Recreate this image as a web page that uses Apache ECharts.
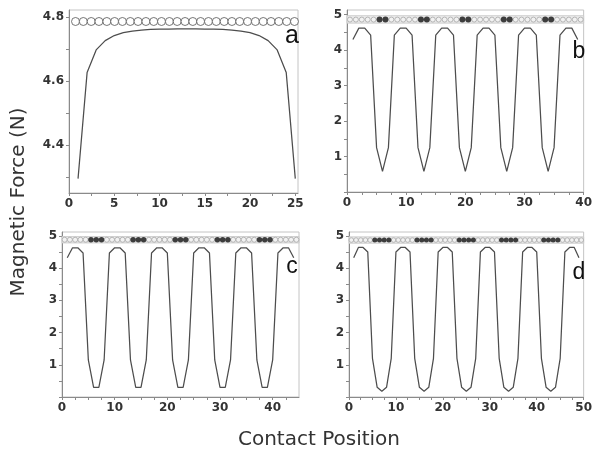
<!DOCTYPE html>
<html>
<head>
<meta charset="utf-8">
<script src="https://cdn.jsdelivr.net/npm/echarts@6/dist/echarts.min.js"></script>
<style>html,body{margin:0;padding:0;background:#fff}#c{width:595px;height:452px}</style>
</head>
<body>
<div id="c"></div>
<script>
// ---------- DATA ----------
// Panel a
const aX = [1,2,3,4,5,6,7,8,9,10,11,12,13,14,15,16,17,18,19,20,21,22,23,24,25];
const aY = [4.295,4.627,4.698,4.727,4.743,4.752,4.757,4.760,4.762,4.763,4.763,4.764,4.764,4.764,4.763,4.763,4.762,4.760,4.757,4.752,4.743,4.727,4.698,4.627,4.295];
const aOpenMagnets = [0.72,1.58,2.45,3.31,4.18,5.04,5.90,6.77,7.63,8.50,9.36,10.22,11.09,11.95,12.82,13.68,14.54,15.41,16.27,17.14,18.00,18.86,19.73,20.59,21.46,22.32,23.18,24.05,24.91];
const aMagnetRowY = 4.787;
// Panel b
const bX = [1,2,3,4,5,6,7,8,9,10,11,12,13,14,15,16,17,18,19,20,21,22,23,24,25,26,27,28,29,30,31,32,33,34,35,36,37,38,39];
const bY = [4.30,4.62,4.62,4.42,1.25,0.58,1.25,4.42,4.62,4.62,4.42,1.25,0.58,1.25,4.42,4.62,4.62,4.42,1.25,0.58,1.25,4.42,4.62,4.62,4.42,1.25,0.58,1.25,4.42,4.62,4.62,4.42,1.25,0.58,1.25,4.42,4.62,4.62,4.30];
const bOpenMagnets = [0.5,1.5,2.5,3.5,4.5,7.5,8.5,9.5,10.5,11.5,14.5,15.5,16.5,17.5,18.5,21.5,22.5,23.5,24.5,25.5,28.5,29.5,30.5,31.5,32.5,35.5,36.5,37.5,38.5,39.5];
const bFilledMagnets = [5.5,6.5,12.5,13.5,19.5,20.5,26.5,27.5,33.5,34.5];
const bMagnetRowY = 4.86;
// Panel c
const cX = [1,2,3,4,5,6,7,8,9,10,11,12,13,14,15,16,17,18,19,20,21,22,23,24,25,26,27,28,29,30,31,32,33,34,35,36,37,38,39,40,41,42,43,44];
const cY = [4.32,4.63,4.63,4.47,1.15,0.30,0.30,1.15,4.47,4.63,4.63,4.47,1.15,0.30,0.30,1.15,4.47,4.63,4.63,4.47,1.15,0.30,0.30,1.15,4.47,4.63,4.63,4.47,1.15,0.30,0.30,1.15,4.47,4.63,4.63,4.47,1.15,0.30,0.30,1.15,4.47,4.63,4.63,4.32];
const cOpenMagnets = [0.5,1.5,2.5,3.5,4.5,8.5,9.5,10.5,11.5,12.5,16.5,17.5,18.5,19.5,20.5,24.5,25.5,26.5,27.5,28.5,32.5,33.5,34.5,35.5,36.5,40.5,41.5,42.5,43.5,44.5];
const cFilledMagnets = [5.5,6.5,7.5,13.5,14.5,15.5,21.5,22.5,23.5,29.5,30.5,31.5,37.5,38.5,39.5];
const cMagnetRowY = 4.88;
// Panel d
const dX = [1,2,3,4,5,6,7,8,9,10,11,12,13,14,15,16,17,18,19,20,21,22,23,24,25,26,27,28,29,30,31,32,33,34,35,36,37,38,39,40,41,42,43,44,45,46,47,48,49];
const dY = [4.32,4.64,4.64,4.50,1.20,0.30,0.18,0.30,1.20,4.50,4.64,4.64,4.50,1.20,0.30,0.18,0.30,1.20,4.50,4.64,4.64,4.50,1.20,0.30,0.18,0.30,1.20,4.50,4.64,4.64,4.50,1.20,0.30,0.18,0.30,1.20,4.50,4.64,4.64,4.50,1.20,0.30,0.18,0.30,1.20,4.50,4.64,4.64,4.32];
const dOpenMagnets = [0.5,1.5,2.5,3.5,4.5,9.5,10.5,11.5,12.5,13.5,18.5,19.5,20.5,21.5,22.5,27.5,28.5,29.5,30.5,31.5,36.5,37.5,38.5,39.5,40.5,45.5,46.5,47.5,48.5,49.5];
const dFilledMagnets = [5.5,6.5,7.5,8.5,14.5,15.5,16.5,17.5,23.5,24.5,25.5,26.5,32.5,33.5,34.5,35.5,41.5,42.5,43.5,44.5];
const dMagnetRowY = 4.87;
// Tick labels
const aXTickLabels = [0,5,10,15,20,25];
const aXTickMarks = [0,2.5,5,7.5,10,12.5,15,17.5,20,22.5,25];
const aYTickLabels = [4.4,4.6,4.8];
const aYTickMarks = [4.3,4.4,4.5,4.6,4.7,4.8];
const bXTickLabels = [0,10,20,30,40];
const bXTickMarks = [0,2.5,5,7.5,10,12.5,15,17.5,20,22.5,25,27.5,30,32.5,35,37.5,40];
const cXTickLabels = [0,10,20,30,40];
const cXTickMarks = [0,2.5,5,7.5,10,12.5,15,17.5,20,22.5,25,27.5,30,32.5,35,37.5,40,42.5];
const dXTickLabels = [0,10,20,30,40,50];
const dXTickMarks = [0,2.5,5,7.5,10,12.5,15,17.5,20,22.5,25,27.5,30,32.5,35,37.5,40,42.5,45,47.5,50];
const forceTickLabels = [1,2,3,4,5];
const forceTickMarks = [0,0.5,1,1.5,2,2.5,3,3.5,4,4.5,5];
const panelLetters = ['a','b','c','d'];
const yTitle = 'Magnetic Force (N)';
const xTitle = 'Contact Position';

// ---------- CHART ----------
const zip = (xs, ys) => xs.map((x, i) => [x, ys[i]]);
const row = (xs, y) => xs.map(x => [x, y]);

const FONT = 'DejaVu Sans';
const labelStyle = {color:'#333', fontWeight:'bold', fontSize:12, fontFamily:FONT};
const axisLineStyle = {show:true, onZero:false, lineStyle:{color:'#8a8a8a', width:1}};

function xAxisCfg(gi, max, labels, marks){
  return {gridIndex:gi, type:'value', min:0, max:max,
    axisLine:axisLineStyle,
    axisTick:{show:true, customValues:marks, length:3, lineStyle:{color:'#8a8a8a'}},
    axisLabel:Object.assign({customValues:labels, margin:5}, labelStyle),
    splitLine:{show:false}};
}
function yAxisCfg(gi, min, max, labels, marks){
  return {gridIndex:gi, type:'value', min:min, max:max,
    axisLine:axisLineStyle,
    axisTick:{show:true, customValues:marks, length:3, lineStyle:{color:'#8a8a8a'}},
    axisLabel:Object.assign({customValues:labels, margin:5}, labelStyle),
    splitLine:{show:false}};
}
const gridBase = {show:true, borderColor:'#c4c4c4', borderWidth:1, containLabel:false};

const lineStyle = {color:'#4d4d4d', width:1.25};
function curve(i, data, band){
  const s = {type:'line', xAxisIndex:i, yAxisIndex:i, data:data, symbol:'none',
    lineStyle:lineStyle, silent:true, z:3};
  if (band) {
    s.markArea = {silent:true, itemStyle:{color:'#ececec', borderColor:'#c8c8c8', borderWidth:0.8},
      data:[[{yAxis:band[0]},{yAxis:band[1]}]]};
  }
  return s;
}
function openRow(i, data, size, border, fill){
  return {type:'scatter', xAxisIndex:i, yAxisIndex:i, data:data, symbol:'circle', symbolSize:size,
    itemStyle:{color:fill, borderColor:border, borderWidth:1}, silent:true, z:4};
}
function filledRow(i, data, size){
  return {type:'scatter', xAxisIndex:i, yAxisIndex:i, data:data, symbol:'circle', symbolSize:size,
    itemStyle:{color:'#111'}, silent:true, z:5};
}

const letterFont = '23px "Liberation Sans"';
const option = {
  animation:false,
  backgroundColor:'#fff',
  grid:[
    Object.assign({left:69, top:10, width:229, height:183}, gridBase),
    Object.assign({left:347, top:10, width:241, height:182}, gridBase),
    Object.assign({left:62, top:232, width:237, height:165}, gridBase),
    Object.assign({left:349, top:232, width:239, height:165}, gridBase)
  ],
  xAxis:[
    xAxisCfg(0, 25.3, aXTickLabels, aXTickMarks),
    xAxisCfg(1, 40, bXTickLabels, bXTickMarks),
    xAxisCfg(2, 45, cXTickLabels, cXTickMarks),
    xAxisCfg(3, 50, dXTickLabels, dXTickMarks)
  ],
  yAxis:[
    yAxisCfg(0, 4.25, 4.823, aYTickLabels, aYTickMarks),
    yAxisCfg(1, 0, 5.13, forceTickLabels, forceTickMarks),
    yAxisCfg(2, 0, 5.12, forceTickLabels, forceTickMarks),
    yAxisCfg(3, 0, 5.12, forceTickLabels, forceTickMarks)
  ],
  series:[
    curve(0, zip(aX, aY)),
    openRow(0, row(aOpenMagnets, aMagnetRowY), 8, '#555', '#fff'),
    curve(1, zip(bX, bY), [4.76, 4.97]),
    openRow(1, row(bOpenMagnets, bMagnetRowY), 5, '#a8a8a8', '#f4f4f4'),
    filledRow(1, row(bFilledMagnets, bMagnetRowY), 6),
    curve(2, zip(cX, cY), [4.78, 4.98]),
    openRow(2, row(cOpenMagnets, cMagnetRowY), 5, '#a8a8a8', '#f4f4f4'),
    filledRow(2, row(cFilledMagnets, cMagnetRowY), 5.5),
    curve(3, zip(dX, dY), [4.77, 4.97]),
    openRow(3, row(dOpenMagnets, dMagnetRowY), 4.6, '#a8a8a8', '#f4f4f4'),
    filledRow(3, row(dFilledMagnets, dMagnetRowY), 5)
  ],
  graphic:[
    {type:'text', x:292, y:49, z:10, style:{text:panelLetters[0], font:'25px "Liberation Sans"', fill:'#111', textAlign:'center', textVerticalAlign:'bottom'}},
    {type:'text', x:579, y:63, z:10, style:{text:panelLetters[1], font:letterFont, fill:'#111', textAlign:'center', textVerticalAlign:'bottom'}},
    {type:'text', x:292, y:278, z:10, style:{text:panelLetters[2], font:letterFont, fill:'#111', textAlign:'center', textVerticalAlign:'bottom'}},
    {type:'text', x:579, y:284, z:10, style:{text:panelLetters[3], font:letterFont, fill:'#111', textAlign:'center', textVerticalAlign:'bottom'}},
    {type:'text', x:19, y:202, rotation:Math.PI/2, z:10, style:{text:yTitle, font:'20px "DejaVu Sans"', fill:'#333', textAlign:'center', textVerticalAlign:'middle'}},
    {type:'text', x:319, y:440, z:10, style:{text:xTitle, font:'20px "DejaVu Sans"', fill:'#333', textAlign:'center', textVerticalAlign:'middle'}}
  ]
};
const chart = echarts.init(document.getElementById('c'), null, {renderer:'canvas'});
chart.setOption(option);
</script>
</body>
</html>
